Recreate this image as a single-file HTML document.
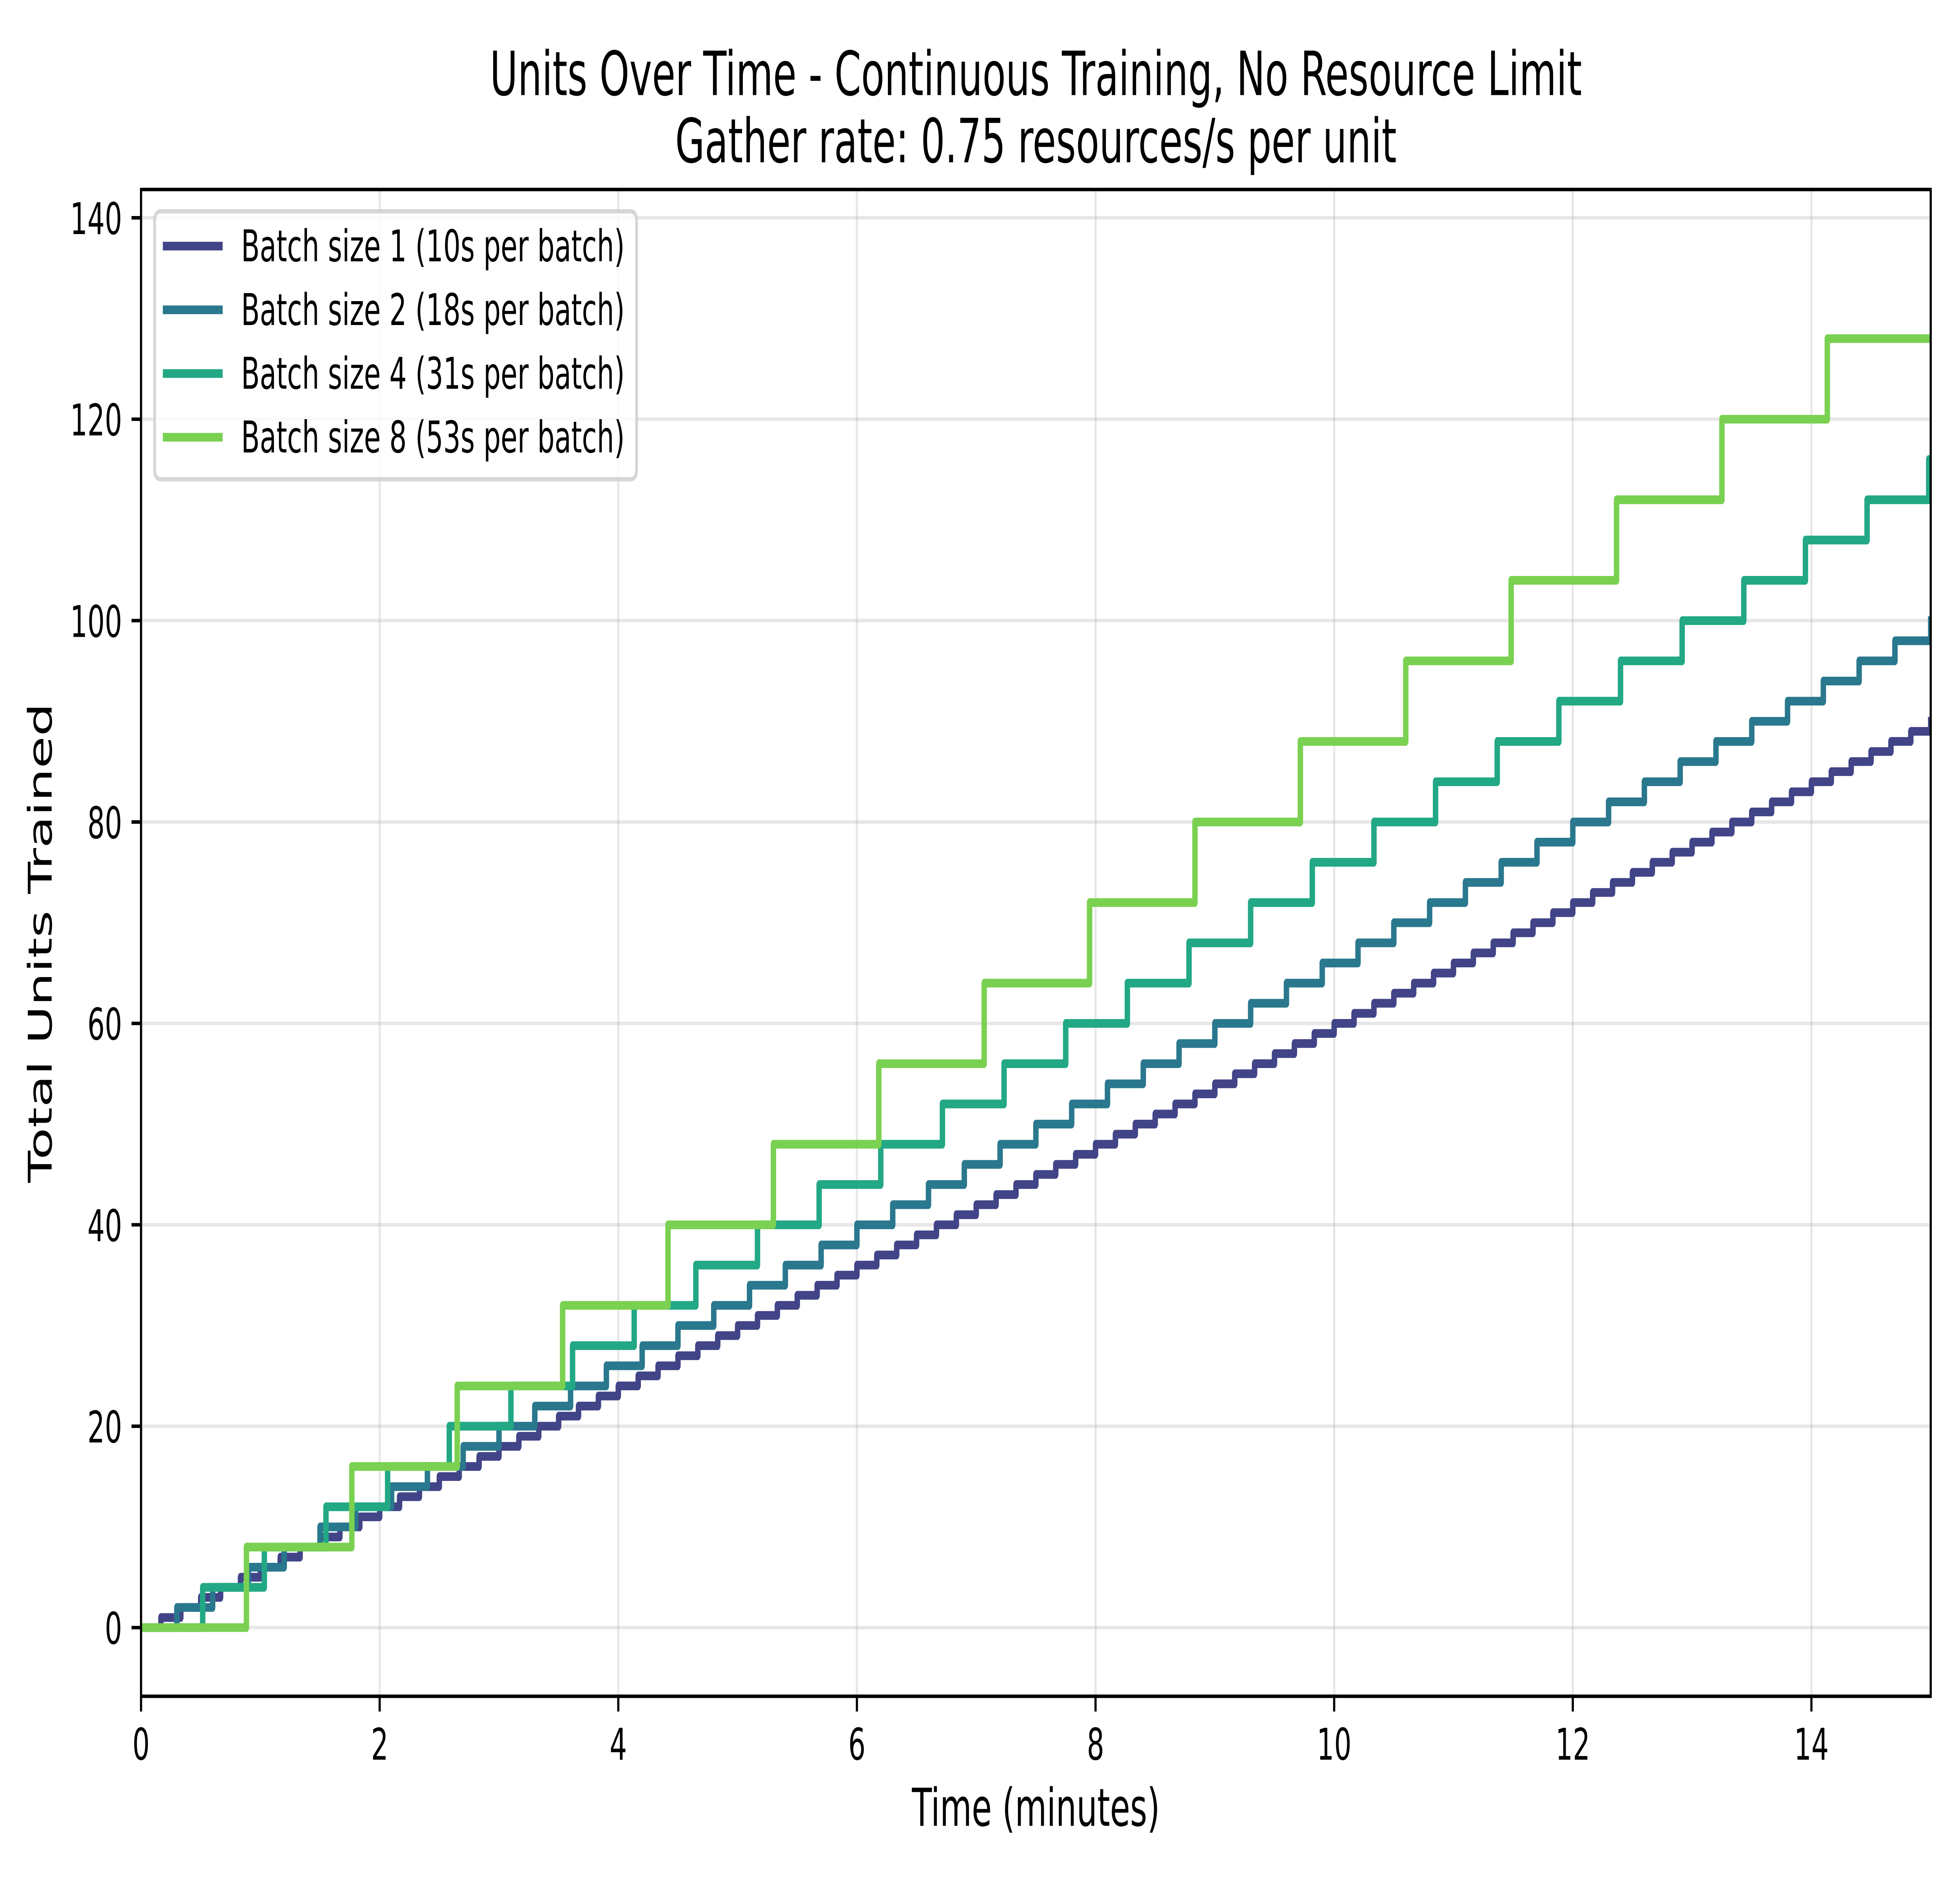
<!DOCTYPE html>
<html>
<head>
<meta charset="utf-8">
<style>
html,body{margin:0;padding:0;background:#ffffff;width:100%;height:100%;overflow:hidden;}
svg{display:block;width:100vw;height:100vh;}
text{font-family:"DejaVu Sans","Liberation Sans",sans-serif;fill:#000000;}
</style>
</head>
<body>
<svg xmlns="http://www.w3.org/2000/svg" viewBox="0 0 8000 4800" preserveAspectRatio="none">
<defs>
<clipPath id="ax"><rect x="575.7" y="483.3" width="7304.8" height="3843"/></clipPath>
</defs>
<rect x="0" y="0" width="8000" height="4800" fill="#ffffff"/>

<!-- grid -->
<g stroke="#b0b0b0" stroke-opacity="0.3" stroke-width="8.9" fill="none">
<line x1="575.7" y1="483.3" x2="575.7" y2="4326.3"/>
<line x1="1549.67" y1="483.3" x2="1549.67" y2="4326.3"/>
<line x1="2523.65" y1="483.3" x2="2523.65" y2="4326.3"/>
<line x1="3497.62" y1="483.3" x2="3497.62" y2="4326.3"/>
<line x1="4471.6" y1="483.3" x2="4471.6" y2="4326.3"/>
<line x1="5445.57" y1="483.3" x2="5445.57" y2="4326.3"/>
<line x1="6419.54" y1="483.3" x2="6419.54" y2="4326.3"/>
<line x1="7393.52" y1="483.3" x2="7393.52" y2="4326.3"/>
<line x1="575.7" y1="4151.2" x2="7880.5" y2="4151.2"/>
<line x1="575.7" y1="3637.53" x2="7880.5" y2="3637.53"/>
<line x1="575.7" y1="3123.86" x2="7880.5" y2="3123.86"/>
<line x1="575.7" y1="2610.18" x2="7880.5" y2="2610.18"/>
<line x1="575.7" y1="2096.51" x2="7880.5" y2="2096.51"/>
<line x1="575.7" y1="1582.84" x2="7880.5" y2="1582.84"/>
<line x1="575.7" y1="1069.17" x2="7880.5" y2="1069.17"/>
<line x1="575.7" y1="555.5" x2="7880.5" y2="555.5"/>
</g>

<!-- series -->
<g clip-path="url(#ax)" fill="none" stroke-width="22.2" stroke-linejoin="round" stroke-linecap="square">
<path stroke="#414487" d="M575.7,4151.2
h81.164v-25.684h81.164v-25.684h81.164v-25.684h81.164v-25.684h81.164v-25.684h81.164v-25.684h81.164v-25.684h81.164v-25.684h81.164v-25.684h81.164v-25.684
h81.164v-25.684h81.164v-25.684h81.164v-25.684h81.164v-25.684h81.164v-25.684h81.164v-25.684h81.164v-25.684h81.164v-25.684h81.164v-25.684h81.164v-25.684
h81.164v-25.684h81.164v-25.684h81.164v-25.684h81.164v-25.684h81.164v-25.684h81.164v-25.684h81.164v-25.684h81.164v-25.684h81.164v-25.684h81.164v-25.684
h81.164v-25.684h81.164v-25.684h81.164v-25.684h81.164v-25.684h81.164v-25.684h81.164v-25.684h81.164v-25.684h81.164v-25.684h81.164v-25.684h81.164v-25.684
h81.164v-25.684h81.164v-25.684h81.164v-25.684h81.164v-25.684h81.164v-25.684h81.164v-25.684h81.164v-25.684h81.164v-25.684h81.164v-25.684h81.164v-25.684
h81.164v-25.684h81.164v-25.684h81.164v-25.684h81.164v-25.684h81.164v-25.684h81.164v-25.684h81.164v-25.684h81.164v-25.684h81.164v-25.684h81.164v-25.684
h81.164v-25.684h81.164v-25.684h81.164v-25.684h81.164v-25.684h81.164v-25.684h81.164v-25.684h81.164v-25.684h81.164v-25.684h81.164v-25.684h81.164v-25.684
h81.164v-25.684h81.164v-25.684h81.164v-25.684h81.164v-25.684h81.164v-25.684h81.164v-25.684h81.164v-25.684h81.164v-25.684h81.164v-25.684h81.164v-25.684
h81.164v-25.684h81.164v-25.684h81.164v-25.684h81.164v-25.684h81.164v-25.684h81.164v-25.684h81.164v-25.684h81.164v-25.684h81.164v-25.684h81.164v-25.684"/>
<path stroke="#2a788e" d="M575.7,4151.2
h146.096v-51.367h146.096v-51.367h146.096v-51.367h146.096v-51.367h146.096v-51.367h146.096v-51.367h146.096v-51.367h146.096v-51.367h146.096v-51.367h146.096v-51.367
h146.096v-51.367h146.096v-51.367h146.096v-51.367h146.096v-51.367h146.096v-51.367h146.096v-51.367h146.096v-51.367h146.096v-51.367h146.096v-51.367h146.096v-51.367
h146.096v-51.367h146.096v-51.367h146.096v-51.367h146.096v-51.367h146.096v-51.367h146.096v-51.367h146.096v-51.367h146.096v-51.367h146.096v-51.367h146.096v-51.367
h146.096v-51.367h146.096v-51.367h146.096v-51.367h146.096v-51.367h146.096v-51.367h146.096v-51.367h146.096v-51.367h146.096v-51.367h146.096v-51.367h146.096v-51.367
h146.096v-51.367h146.096v-51.367h146.096v-51.367h146.096v-51.367h146.096v-51.367h146.096v-51.367h146.096v-51.367h146.096v-51.367h146.096v-51.367h146.096v-51.367"/>
<path stroke="#22a884" d="M575.7,4151.2
h251.61v-102.734h251.61v-102.734h251.61v-102.734h251.61v-102.734h251.61v-102.734h251.61v-102.734h251.61v-102.734h251.61v-102.734h251.61v-102.734h251.61v-102.734
h251.61v-102.734h251.61v-102.734h251.61v-102.734h251.61v-102.734h251.61v-102.734h251.61v-102.734h251.61v-102.734h251.61v-102.734h251.61v-102.734h251.61v-102.734
h251.61v-102.734h251.61v-102.734h251.61v-102.734h251.61v-102.734h251.61v-102.734h251.61v-102.734h251.61v-102.734h251.61v-102.734h251.61v-102.734
h300"/>
<path stroke="#7ad151" d="M575.7,4151.2
h430.171v-205.469h430.171v-205.469h430.171v-205.469h430.171v-205.469h430.171v-205.469h430.171v-205.469h430.171v-205.469h430.171v-205.469
h430.171v-205.469h430.171v-205.469h430.171v-205.469h430.171v-205.469h430.171v-205.469h430.171v-205.469h430.171v-205.469h430.171v-205.469
h600"/>
</g>

<!-- spines -->
<rect x="575.7" y="483.3" width="7304.8" height="3843" fill="none" stroke="#000000" stroke-width="8.9" stroke-linejoin="miter"/>

<!-- ticks -->
<g stroke="#000000" stroke-width="8.9">
<line x1="575.7" y1="4326.3" x2="575.7" y2="4365.2"/>
<line x1="1549.67" y1="4326.3" x2="1549.67" y2="4365.2"/>
<line x1="2523.65" y1="4326.3" x2="2523.65" y2="4365.2"/>
<line x1="3497.62" y1="4326.3" x2="3497.62" y2="4365.2"/>
<line x1="4471.6" y1="4326.3" x2="4471.6" y2="4365.2"/>
<line x1="5445.57" y1="4326.3" x2="5445.57" y2="4365.2"/>
<line x1="6419.54" y1="4326.3" x2="6419.54" y2="4365.2"/>
<line x1="7393.52" y1="4326.3" x2="7393.52" y2="4365.2"/>
<line x1="536.8" y1="4151.2" x2="575.7" y2="4151.2"/>
<line x1="536.8" y1="3637.53" x2="575.7" y2="3637.53"/>
<line x1="536.8" y1="3123.86" x2="575.7" y2="3123.86"/>
<line x1="536.8" y1="2610.18" x2="575.7" y2="2610.18"/>
<line x1="536.8" y1="2096.51" x2="575.7" y2="2096.51"/>
<line x1="536.8" y1="1582.84" x2="575.7" y2="1582.84"/>
<line x1="536.8" y1="1069.17" x2="575.7" y2="1069.17"/>
<line x1="536.8" y1="555.5" x2="575.7" y2="555.5"/>
</g>

<!-- x tick labels -->
<g font-size="111.1" text-anchor="middle">
<text x="575.7" y="4488">0</text>
<text x="1549.67" y="4488">2</text>
<text x="2523.65" y="4488">4</text>
<text x="3497.62" y="4488">6</text>
<text x="4471.6" y="4488">8</text>
<text x="5445.57" y="4488">10</text>
<text x="6419.54" y="4488">12</text>
<text x="7393.52" y="4488">14</text>
</g>

<!-- y tick labels -->
<g font-size="111.1" text-anchor="end">
<text x="498.2" y="4192.7">0</text>
<text x="498.2" y="3679.03">20</text>
<text x="498.2" y="3165.36">40</text>
<text x="498.2" y="2651.68">60</text>
<text x="498.2" y="2138.01">80</text>
<text x="498.2" y="1624.34">100</text>
<text x="498.2" y="1110.67">120</text>
<text x="498.2" y="597">140</text>
</g>

<!-- axis labels -->
<text x="4228.1" y="4656.7" font-size="133.3" text-anchor="middle">Time (minutes)</text>
<text transform="translate(210.7,2404.8) rotate(-90)" font-size="133.3" text-anchor="middle">Total Units Trained</text>

<!-- title -->
<text x="4228.1" y="242.5" font-size="155.6" text-anchor="middle">Units Over Time - Continuous Training, No Resource Limit</text>
<text x="4228.1" y="414" font-size="155.6" text-anchor="middle">Gather rate: 0.75 resources/s per unit</text>

<!-- legend -->
<rect x="631.3" y="538.9" width="1967" height="683.4" rx="22.2" ry="22.2" fill="#ffffff" fill-opacity="0.8" stroke="#cccccc" stroke-opacity="0.8" stroke-width="11.1"/>
<g stroke-width="22.2" stroke-linecap="square">
<line x1="675.7" y1="627.7" x2="897.7" y2="627.7" stroke="#414487"/>
<line x1="675.7" y1="790.2" x2="897.7" y2="790.2" stroke="#2a788e"/>
<line x1="675.7" y1="952.7" x2="897.7" y2="952.7" stroke="#22a884"/>
<line x1="675.7" y1="1115.2" x2="897.7" y2="1115.2" stroke="#7ad151"/>
</g>
<g font-size="111.1">
<text x="984" y="666.5">Batch size 1 (10s per batch)</text>
<text x="984" y="829">Batch size 2 (18s per batch)</text>
<text x="984" y="991.5">Batch size 4 (31s per batch)</text>
<text x="984" y="1154">Batch size 8 (53s per batch)</text>
</g>
</svg>
</body>
</html>
